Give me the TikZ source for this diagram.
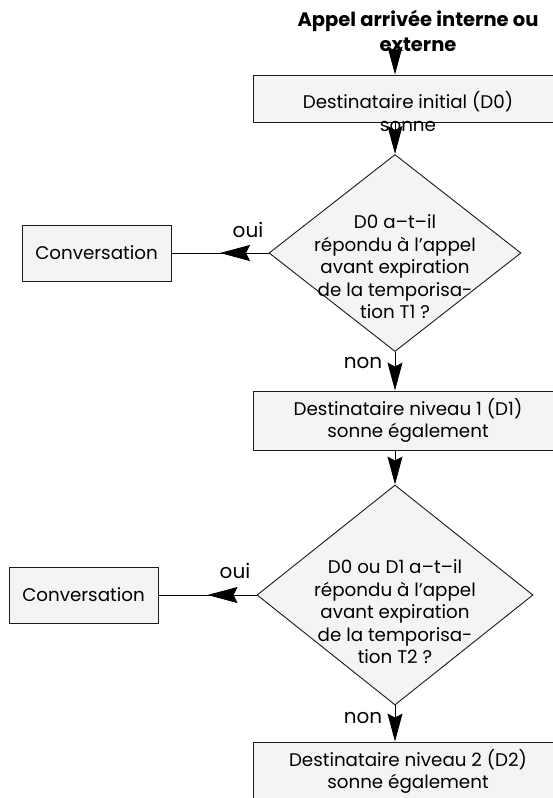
\documentclass[tikz,border=0pt]{standalone}
\usepackage{fontspec}
\setmainfont{Poppins}
\usetikzlibrary{arrows.meta, shapes.geometric, decorations.markings}
\definecolor{cfill}{HTML}{F4F4F4}
\definecolor{cline}{HTML}{1A1A1A}
\tikzset{
  every picture/.style={font=\fontsize{18.3}{22.5}\selectfont, line width=0.9pt},
  box/.style={draw=cline, fill=cfill, inner sep=0pt, minimum width=#1, minimum height=56pt, align=center},
  box/.default=310pt,
  decision/.style={diamond, draw=cline, fill=cfill, inner sep=0pt},
  txt/.style={align=center, inner sep=0pt},
  lbl/.style={font=\fontsize{20}{24}\selectfont, inner sep=0pt},
  title/.style={font=\fontsize{19.5}{25}\selectfont\bfseries, align=center, inner sep=0pt},
  arrow/.style={-{Stealth[length=28pt, width=15pt, inset=4pt]}, draw=black},
  midarrow/.style={draw=black, postaction={decorate}, decoration={markings,
      mark=at position 0.5 with {\arrow{Stealth[length=30pt, width=16pt, inset=4pt]}}}},
}

\begin{document}
\begin{tikzpicture}[x=1pt, y=-1pt]
  \useasboundingbox (0,0) rectangle (553,798);

  % incoming call
  \node[title] (ttl) at (418,31) {Appel arrivée interne ou\\externe};
  \coordinate (in) at (395,45);

  % first ring and first question
  \node[box, minimum height=47pt] (b1) at (408,98.5) {};
  \node[txt] (b1t) at ([yshift=-13pt]b1.center) {Destinataire initial (D0)\\sonne};
  \node[decision, minimum width=252pt, minimum height=197pt] (d1) at (395,253) {};
  \node[txt] (d1t) at ([yshift=-14pt]d1.center) {D0 a–t–il\\répondu à l’appel\\avant expiration\\de la temporisa-\\tion T1 ?};
  \node[box=149pt] (c1) at (96.5,253) {Conversation};
  \node[lbl] (oui1) at (248,230) {oui};
  \node[lbl] (non1) at (363,363) {non};

  % second ring and second question
  \node[box, minimum height=59pt] (b2) at (408,420.5) {Destinataire niveau 1 (D1)\\sonne également};
  \node[decision, minimum width=276pt, minimum height=220pt] (d2) at (395,595) {};
  \node[txt] (d2t) at ([yshift=-17pt]d2.center) {D0 ou D1 a–t–il\\répondu à l’appel\\avant expiration\\de la temporisa-\\tion T2 ?};
  \node[box=149pt] (c2) at (83.5,595) {Conversation};
  \node[lbl] (oui2) at (235,571) {oui};
  \node[lbl] (non2) at (363,718) {non};

  % third ring
  \node[box, minimum height=59pt] (b3) at (408,771.5) {Destinataire niveau 2 (D2)\\sonne également};

  % flow
  \draw[arrow] (in) -- (b1.north -| d1.north);
  \draw[arrow] (b1.south -| d1.north) -- (d1.north);
  \draw[midarrow] (d1.west) -- (c1.east);
  \draw[arrow] (d1.south) -- (b2.north -| d1.south);
  \draw[arrow] (b2.south -| d2.north) -- (d2.north);
  \draw[midarrow] (d2.west) -- (c2.east);
  \draw[arrow] (d2.south) -- (b3.north -| d2.south);
\end{tikzpicture}
\end{document}
